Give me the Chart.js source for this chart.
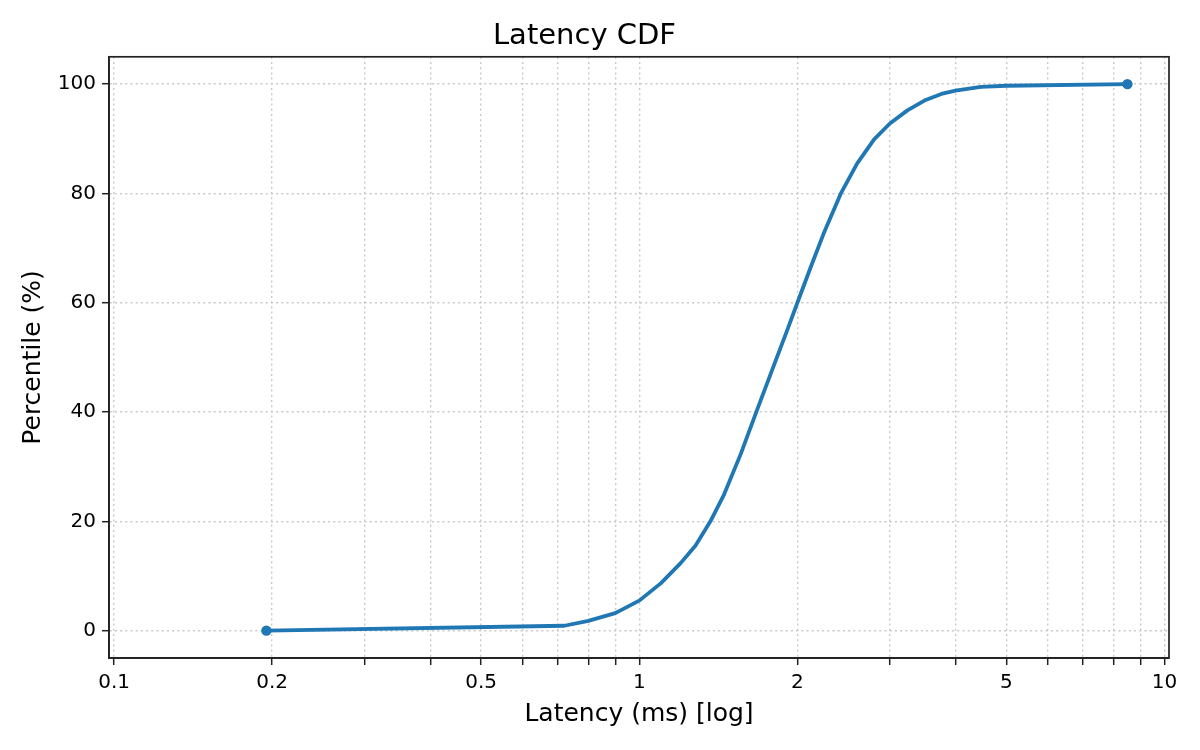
<!DOCTYPE html>
<html>
<head>
<meta charset="utf-8">
<script src="https://cdn.jsdelivr.net/npm/chart.js@4/dist/chart.umd.min.js"></script>
<style>
  html, body { margin: 0; padding: 0; background: #fff; }
  #wrap { width: 1200px; height: 750px; }
</style>
</head>
<body>
<div id="wrap"><canvas id="cdfChart" width="1200" height="750"></canvas></div>
<script>
// values
const latencyMs = [0.195, 0.72, 0.80, 0.90, 1.00, 1.10, 1.20, 1.28, 1.366, 1.45, 1.56, 1.67, 1.805, 1.913, 2.00, 2.12, 2.245, 2.42, 2.60, 2.80, 3.00, 3.24, 3.49, 3.76, 4.00, 4.47, 5.00, 8.5];
const percentile = [0, 0.9, 1.8, 3.2, 5.5, 8.7, 12.4, 15.6, 20, 24.9, 32.3, 40, 48.6, 55.0, 60, 66.5, 72.7, 80, 85.5, 89.9, 92.8, 95.2, 97.0, 98.2, 98.8, 99.5, 99.7, 100];

const xGridTicks = [0.1, 0.2, 0.3, 0.4, 0.5, 0.6, 0.7, 0.8, 0.9, 1, 2, 3, 4, 5, 6, 7, 8, 9, 10];
const xTickLabels = [0.1, 0.2, 0.5, 1, 2, 5, 10];
const yTicks = [0, 20, 40, 60, 80, 100];

window.addEventListener('load', function(){
    const font = 'DejaVu Sans';
    const gridColor = '#c8c8c8';
    const axisColor = '#222222';

    // top + right spines, like matplotlib's box
    const frame = {
        id: 'frame',
        afterDraw(chart) {
            const a = chart.chartArea;
            const c = chart.ctx;
            c.save();
            c.strokeStyle = axisColor;
            c.lineWidth = 1.7;
            c.strokeRect(a.left, a.top, a.right - a.left, a.bottom - a.top);
            c.restore();
        }
    };

    const ctx = document.getElementById('cdfChart');
    const cdfChart = new Chart(ctx, {
        type: 'line',
        data: {
            datasets: [{
                label: 'CDF',
                data: latencyMs.map((v, i) => ({x: v, y: percentile[i]})),
                borderColor: '#1f77b4',
                backgroundColor: '#1f77b4',
                borderWidth: 3.8,
                tension: 0,
                borderJoinStyle: 'round',
                pointRadius: c => (c.dataIndex === 0 || c.dataIndex === latencyMs.length - 1) ? 5.2 : 0,
                pointBorderWidth: 0,
                fill: false
            }]
        },
        plugins: [frame],
        options: {
            responsive: false,
            animation: false,
            events: [],
            layout: { padding: { top: 0, right: 31, bottom: 0, left: 0 } },
            plugins: {
                legend: { display: false },
                tooltip: { enabled: false },
                title: {
                    display: true,
                    text: 'Latency CDF',
                    color: '#000',
                    font: { family: font, size: 29, weight: 'normal' },
                    padding: { top: 19, bottom: 3 }
                }
            },
            scales: {
                x: {
                    type: 'logarithmic',
                    min: 0.0978,
                    max: 10.2,
                    afterBuildTicks: s => { s.ticks = xGridTicks.map(v => ({value: v})); },
                    afterFit: s => { s.height = 92; },
                    ticks: {
                        autoSkip: false,
                        maxRotation: 0,
                        color: '#000',
                        font: { family: font, size: 20 },
                        padding: 6,
                        callback: v => xTickLabels.includes(v) ? String(v) : ''
                    },
                    grid: {
                        color: gridColor,
                        lineWidth: 1.4,
                        tickLength: 7,
                        tickColor: axisColor,
                        tickWidth: 1.5
                    },
                    border: { display: true, color: axisColor, width: 1.7, dash: [2, 3.2] },
                    title: {
                        display: true,
                        text: 'Latency (ms) [log]',
                        color: '#000',
                        font: { family: font, size: 25 },
                        padding: { top: 0, bottom: 21 }
                    }
                },
                y: {
                    type: 'linear',
                    min: -5,
                    max: 105,
                    afterBuildTicks: s => { s.ticks = yTicks.map(v => ({value: v})); },
                    afterFit: s => { s.width = 109; },
                    ticks: {
                        color: '#000',
                        font: { family: font, size: 20 },
                        padding: 6
                    },
                    grid: {
                        color: gridColor,
                        lineWidth: 1.4,
                        tickLength: 7,
                        tickColor: axisColor,
                        tickWidth: 1.5
                    },
                    border: { display: true, color: axisColor, width: 1.7, dash: [2, 3.2] },
                    title: {
                        display: true,
                        text: 'Percentile (%)',
                        color: '#000',
                        font: { family: font, size: 25 },
                        padding: { top: 18, bottom: 0 }
                    }
                }
            }
        }
    });
});
</script>
</body>
</html>
